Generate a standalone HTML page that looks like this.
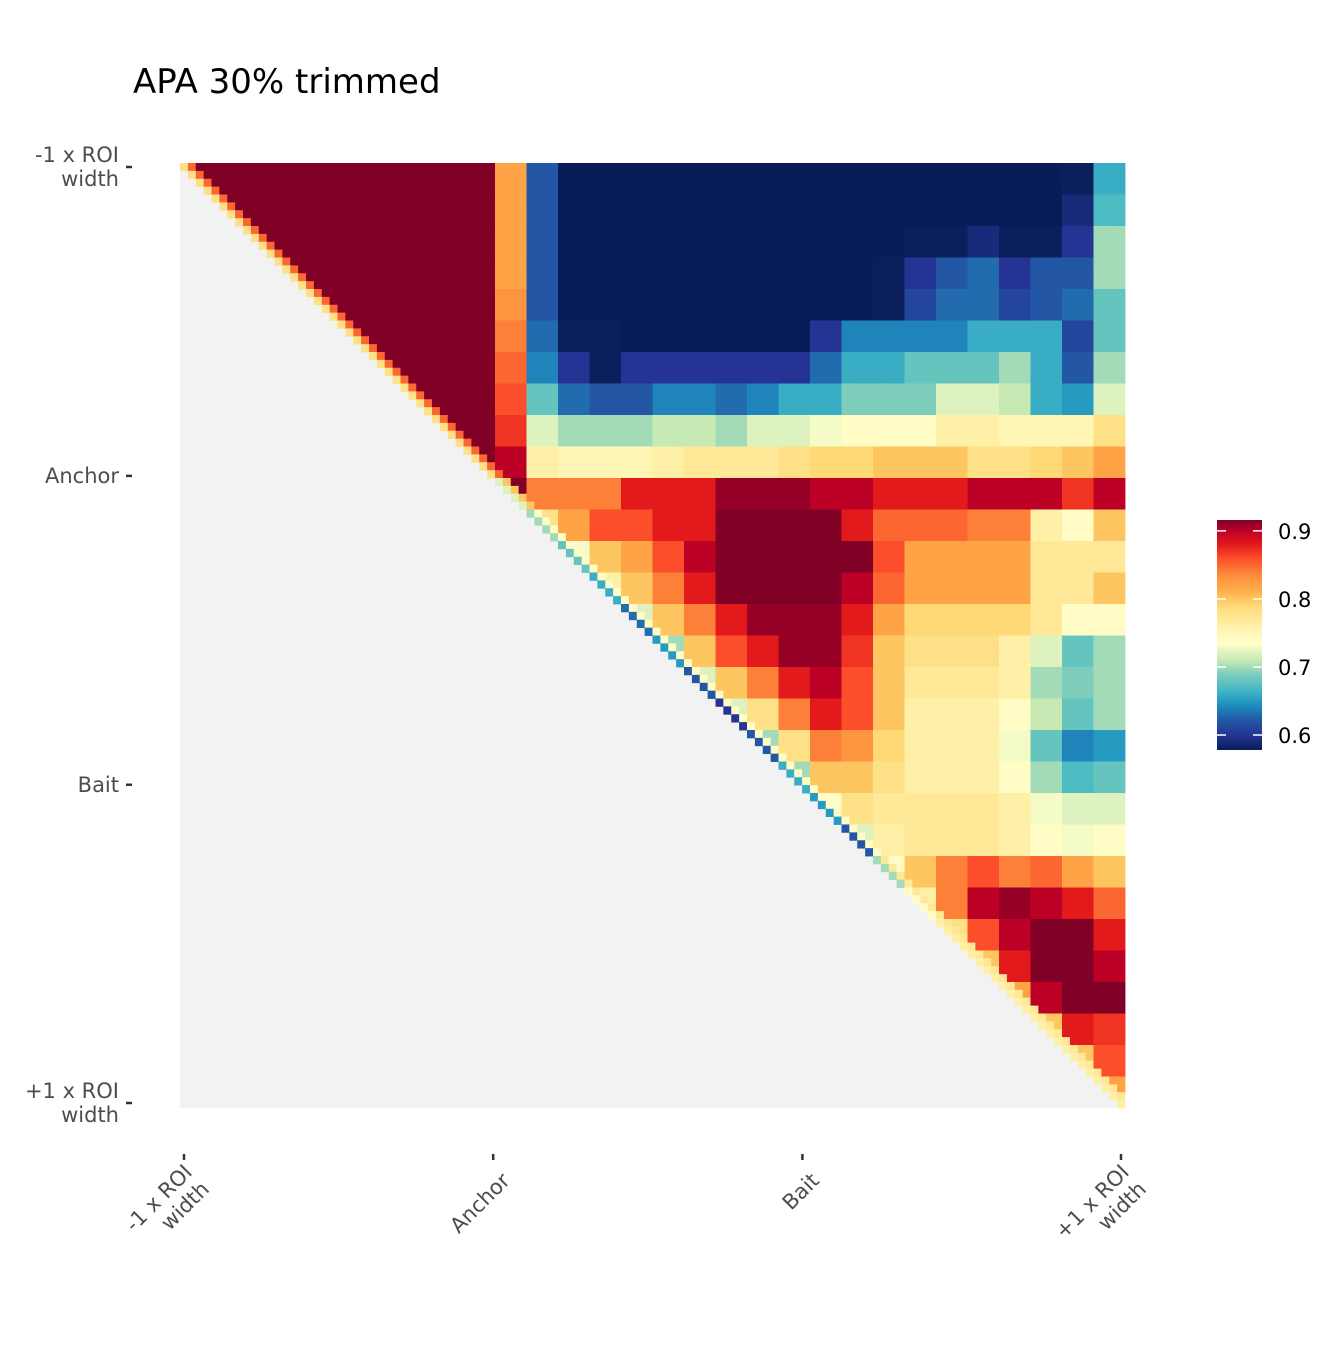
<!DOCTYPE html>
<html><head><meta charset="utf-8"><style>
body{margin:0;background:#fff;}
svg text{font-family:"DejaVu Sans","Liberation Sans",sans-serif;}
</style></head><body>
<svg id="chart" width="1344" height="1344" xmlns="http://www.w3.org/2000/svg">
<rect width="1344" height="1344" fill="#fff"/>
<text x="133" y="93" font-size="34" fill="#000">APA 30% trimmed</text>
<g id="cells"></g>
<g id="axes"></g>
<g id="legend"></g>
</svg>
<script>
// ---- data (coarse 30x30 blocks, upper triangle, row r has values for cols r..29) ----
const tickLabels = [["-1 x ROI","width"],["Anchor"],["Bait"],["+1 x ROI","width"]];
const tickPositions = [0, 0.33, 0.66, 1]; // fraction along axis
const legendTicks = [0.6, 0.7, 0.8, 0.9];
const diagValues = [0.78,0.78,0.78,0.78,0.78,0.78,0.78,0.78,0.78,0.78,0.72,0.7,0.68,0.66,0.63,0.65,0.62,0.6,0.62,0.66,0.65,0.62,0.7,0.74,0.76,0.76,0.76,0.76,0.76,0.76];
const nearDiagValues = [0.85,0.85,0.85,0.85,0.85,0.85,0.85,0.85,0.85,0.85,0.8,0.74,0.74,0.74,0.74,0.74,0.74,0.74,0.74,0.74,0.74,0.74,0.77,0.77,0.77,0.77,0.77,0.77,0.77,0.77];
const N9 = 0.92;
const row0 = [N9,N9,N9,N9,N9,N9,N9,N9,N9,N9,0.82,0.62,0.57,0.57,0.57,0.57,0.57,0.57,0.57,0.57,0.57,0.57,0.57,0.57,0.57,0.57,0.57,0.57,0.58,0.66];
const row1 = [N9,N9,N9,N9,N9,N9,N9,N9,N9,0.82,0.62,0.57,0.57,0.57,0.57,0.57,0.57,0.57,0.57,0.57,0.57,0.57,0.57,0.57,0.57,0.57,0.57,0.59,0.67];
const row2 = [N9,N9,N9,N9,N9,N9,N9,N9,0.82,0.62,0.57,0.57,0.57,0.57,0.57,0.57,0.57,0.57,0.57,0.57,0.57,0.58,0.58,0.59,0.58,0.58,0.6,0.7];
const row3 = [N9,N9,N9,N9,N9,N9,N9,0.82,0.62,0.57,0.57,0.57,0.57,0.57,0.57,0.57,0.57,0.57,0.57,0.58,0.6,0.62,0.63,0.6,0.62,0.62,0.7];
const row4 = [N9,N9,N9,N9,N9,N9,0.83,0.62,0.57,0.57,0.57,0.57,0.57,0.57,0.57,0.57,0.57,0.57,0.58,0.61,0.63,0.63,0.61,0.62,0.63,0.68];
const row5 = [N9,N9,N9,N9,N9,0.84,0.63,0.58,0.58,0.57,0.57,0.57,0.57,0.57,0.57,0.6,0.64,0.64,0.64,0.64,0.66,0.66,0.66,0.61,0.68];
const row6 = [N9,N9,N9,N9,0.85,0.64,0.6,0.58,0.6,0.6,0.6,0.6,0.6,0.6,0.63,0.66,0.66,0.68,0.68,0.68,0.7,0.66,0.62,0.7];
const row7 = [N9,N9,N9,0.86,0.68,0.63,0.62,0.62,0.64,0.64,0.63,0.64,0.66,0.66,0.69,0.69,0.69,0.72,0.72,0.71,0.66,0.65,0.72];
const row8 = [N9,N9,0.87,0.72,0.7,0.7,0.7,0.71,0.71,0.7,0.72,0.72,0.73,0.74,0.74,0.74,0.76,0.76,0.75,0.75,0.75,0.78];
const row9 = [N9,0.9,0.76,0.75,0.75,0.75,0.76,0.77,0.77,0.77,0.78,0.79,0.79,0.8,0.8,0.8,0.78,0.78,0.79,0.8,0.82];
const row10 = [0.92,0.84,0.84,0.84,0.88,0.88,0.88,0.91,0.91,0.91,0.9,0.9,0.88,0.88,0.88,0.9,0.9,0.9,0.87,0.9];
const row11 = [0.78,0.82,0.86,0.86,0.88,0.88,0.92,0.92,0.92,0.92,0.88,0.85,0.85,0.85,0.84,0.84,0.76,0.74,0.8];
const row12 = [0.73,0.8,0.82,0.86,0.9,0.92,0.92,0.92,0.92,0.92,0.86,0.82,0.82,0.82,0.82,0.77,0.77,0.77];
const row13 = [0.76,0.8,0.84,0.88,0.92,0.92,0.92,0.92,0.9,0.85,0.82,0.82,0.82,0.82,0.77,0.77,0.8];
const row14 = [0.72,0.8,0.84,0.88,0.91,0.91,0.91,0.88,0.82,0.79,0.79,0.79,0.79,0.77,0.74,0.74];
const row15 = [0.7,0.8,0.86,0.88,0.91,0.91,0.87,0.8,0.78,0.78,0.78,0.76,0.72,0.68,0.7];
const row16 = [0.72,0.8,0.84,0.88,0.9,0.86,0.8,0.77,0.77,0.77,0.76,0.7,0.69,0.7];
const row17 = [0.72,0.78,0.84,0.88,0.86,0.8,0.76,0.76,0.76,0.74,0.71,0.68,0.7];
const row18 = [0.7,0.78,0.84,0.83,0.79,0.76,0.76,0.76,0.73,0.68,0.64,0.65];
const row19 = [0.7,0.8,0.8,0.78,0.76,0.76,0.76,0.74,0.7,0.67,0.68];
const row20 = [0.74,0.78,0.77,0.77,0.77,0.77,0.76,0.73,0.72,0.72];
const row21 = [0.72,0.76,0.77,0.77,0.77,0.76,0.74,0.73,0.74];
const row22 = [0.74,0.8,0.84,0.86,0.84,0.85,0.82,0.8];
const row23 = [0.76,0.84,0.9,0.91,0.9,0.88,0.85];
const row24 = [0.78,0.86,0.9,0.92,0.92,0.88];
const row25 = [0.8,0.88,0.92,0.92,0.9];
const row26 = [0.82,0.9,0.92,0.92];
const row27 = [0.8,0.88,0.87];
const row28 = [0.8,0.86];
const row29 = [0.82];
const blockRows = [row0,row1,row2,row3,row4,row5,row6,row7,row8,row9,row10,row11,row12,row13,row14,row15,row16,row17,row18,row19,row20,row21,row22,row23,row24,row25,row26,row27,row28,row29];

// ---- layout ----
const X0=180, Y0=163, W=945, NB=30, SUB=4, NF=NB*SUB, cs=W/NF;
const vmin=0.578, vmax=0.916;
const stops=[[0.578,"#081d58"],[0.60,"#253494"],[0.625,"#225ea8"],[0.645,"#1d91c0"],[0.665,"#41b6c4"],[0.69,"#7fcdbb"],[0.71,"#c7e9b4"],[0.735,"#ffffcc"],[0.765,"#ffeda0"],[0.79,"#fed976"],[0.81,"#feb24c"],[0.835,"#fd8d3c"],[0.86,"#fc4e2a"],[0.88,"#e31a1c"],[0.9,"#bd0026"],[0.916,"#800026"]];
function hex(h){return [1,3,5].map(i=>parseInt(h.substr(i,2),16));}
function color(v){
  v=Math.max(vmin,Math.min(vmax,v));
  for(let k=0;k<stops.length-1;k++){
    const [a,ca]=stops[k],[b,cb]=stops[k+1];
    if(v<=b){const t=(v-a)/(b-a),A=hex(ca),B=hex(cb);
      return "rgb("+A.map((x,i)=>Math.round(x+(B[i]-x)*t)).join(",")+")";}
  }
  return stops[stops.length-1][1];
}
const xs=j=>X0+j*cs, ys=i=>Y0+i*cs;
const NS="http://www.w3.org/2000/svg";
const cells=document.getElementById("cells");
const bg=document.createElementNS(NS,"rect");
bg.setAttribute("x",X0);bg.setAttribute("y",Y0);bg.setAttribute("width",W);bg.setAttribute("height",W);bg.setAttribute("fill","#f2f2f2");


cells.appendChild(bg);
for(let i=0;i<NF;i++){
  for(let j=i;j<NF;j++){
    const bi=Math.floor(i/SUB), bj=Math.floor(j/SUB);
    let v;
    if(j===i) v=diagValues[bi];
    else if(j===i+1) v=nearDiagValues[bi];
    else v=blockRows[bi][bj-bi];
    const r=document.createElementNS(NS,"rect");
    r.setAttribute("x",xs(j).toFixed(2));r.setAttribute("y",ys(i).toFixed(2));
    r.setAttribute("width",(cs+0.4).toFixed(2));r.setAttribute("height",(cs+0.4).toFixed(2));
    r.setAttribute("fill",color(v));
    
    
    cells.appendChild(r);
  }
}
// ---- axes ----
const axes=document.getElementById("axes");
tickPositions.forEach((p,k)=>{
  const yy=Y0+4+p*(W-9), xx=X0+4+p*(W-8);
  const t=document.createElementNS(NS,"line");
  t.setAttribute("x1",126);t.setAttribute("x2",132);t.setAttribute("y1",yy);t.setAttribute("y2",yy);
  t.setAttribute("stroke","#333");t.setAttribute("stroke-width",2.5);
  
  
  axes.appendChild(t);
  const lab=tickLabels[k];
  const tx=document.createElementNS(NS,"text");
  tx.setAttribute("text-anchor","end");tx.setAttribute("font-size","21");tx.setAttribute("fill","#4d4d4d");
  
  
  lab.forEach((s,m)=>{const ts=document.createElementNS(NS,"tspan");ts.setAttribute("x",119);
    ts.setAttribute("y",yy+7+(m-(lab.length-1)/2)*24);ts.textContent=s;tx.appendChild(ts);});
  axes.appendChild(tx);
  const t2=document.createElementNS(NS,"line");
  t2.setAttribute("x1",xx);t2.setAttribute("x2",xx);t2.setAttribute("y1",1154);t2.setAttribute("y2",1160);
  t2.setAttribute("stroke","#333");t2.setAttribute("stroke-width",2.5);
  
  
  axes.appendChild(t2);
  const g=document.createElementNS(NS,"text");
  g.setAttribute("text-anchor","end");g.setAttribute("font-size","21");g.setAttribute("fill","#4d4d4d");
  g.setAttribute("transform","translate("+(xx+8)+",1172) rotate(-45)");
  
  
  lab.forEach((s,m)=>{const ts=document.createElementNS(NS,"tspan");ts.setAttribute("x",0);
    ts.setAttribute("y",14+(m-(lab.length-1))*24+(lab.length-1)*12);ts.textContent=s;g.appendChild(ts);});
  axes.appendChild(g);
});
// ---- legend ----
const leg=document.getElementById("legend");
const LX=1217,LW=45,LT=520,LB=750;
const defs=document.createElementNS(NS,"defs");
const grad=document.createElementNS(NS,"linearGradient");
grad.setAttribute("id","lg");grad.setAttribute("x1","0");grad.setAttribute("x2","0");grad.setAttribute("y1","1");grad.setAttribute("y2","0");
stops.forEach(([v,c])=>{const s=document.createElementNS(NS,"stop");s.setAttribute("offset",((v-vmin)/(vmax-vmin)).toFixed(3));s.setAttribute("stop-color",c);grad.appendChild(s);});
defs.appendChild(grad);leg.appendChild(defs);
const bar=document.createElementNS(NS,"rect");
bar.setAttribute("x",LX);bar.setAttribute("y",LT);bar.setAttribute("width",LW);bar.setAttribute("height",LB-LT);bar.setAttribute("fill","url(#lg)");


leg.appendChild(bar);
legendTicks.forEach(v=>{
  const yy=LB-(v-vmin)/(vmax-vmin)*(LB-LT);
  [[LX,LX+9],[LX+LW-9,LX+LW]].forEach(([a,b])=>{
    const l=document.createElementNS(NS,"line");
    l.setAttribute("x1",a);l.setAttribute("x2",b);l.setAttribute("y1",yy);l.setAttribute("y2",yy);
    l.setAttribute("stroke","#fff");l.setAttribute("stroke-width",1.5);
    
    
    leg.appendChild(l);
  });
  const t=document.createElementNS(NS,"text");
  t.setAttribute("x",1278);t.setAttribute("y",yy+8);t.setAttribute("font-size","21");t.setAttribute("fill","#000");
  t.textContent=v.toFixed(1);
  
  
  leg.appendChild(t);
});
</script>
</body></html>
